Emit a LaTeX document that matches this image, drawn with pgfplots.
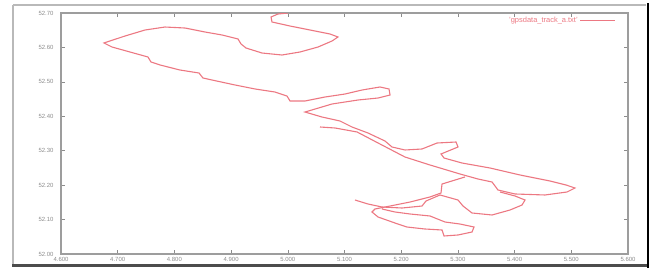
\documentclass[border=0pt]{standalone}
\usepackage{pgfplots}
\pgfplotsset{compat=1.18}
\usepackage{fontspec}
\setmainfont{Liberation Sans}
\definecolor{trk}{RGB}{236,120,130}
\definecolor{tk}{RGB}{140,140,140}
\begin{document}
\begin{tikzpicture}
\path (0,0) rectangle (655bp,271bp);
\begin{axis}[
  at={(61bp,17bp)}, anchor=south west, scale only axis,
  width=567bp, height=241bp,
  xmin=4.6, xmax=5.6, ymin=52.0, ymax=52.7,
  xtick={4.6,4.7,4.8,4.9,5.0,5.1,5.2,5.3,5.4,5.5,5.6},
  ytick={52.0,52.1,52.2,52.3,52.4,52.5,52.6,52.7},
  /pgf/number format/assume math mode=true,
  xticklabel style={/pgf/number format/fixed, /pgf/number format/fixed zerofill, /pgf/number format/precision=3},
  yticklabel style={/pgf/number format/fixed, /pgf/number format/fixed zerofill, /pgf/number format/precision=2, xshift=-4bp},
  tick label style={font=\fontsize{6}{7}\selectfont, text=tk},
  axis line style={draw=tk!85, line width=1.3bp},
  tick style={draw=tk, line width=0.6bp},
  major tick length=4bp, tick align=inside,
  legend style={at={(1,1)}, anchor=north east, xshift=-12bp, yshift=-2bp,
    draw=none, fill=none, inner sep=0pt,
    font=\fontsize{7.5}{8}\selectfont, text=trk},
  legend cell align=right, legend plot pos=right,
  legend image code/.code={\draw[draw=trk, line width=1.1bp] (0bp,0bp) -- (35bp,0bp);},
]
\addplot[trk, line width=1.1bp] coordinates {
(5.0004,52.7000) (4.9827,52.6971) (4.9704,52.6884) (4.9721,52.6739) (5.0039,52.6622)
(5.0392,52.6506) (5.0744,52.6390) (5.0885,52.6303) (5.0780,52.6187) (5.0533,52.6012)
(5.0215,52.5867) (4.9898,52.5780) (4.9545,52.5838) (4.9263,52.5983) (4.9175,52.6100)
(4.9122,52.6245) (4.8840,52.6361) (4.8540,52.6448) (4.8187,52.6564) (4.7834,52.6593)
(4.7481,52.6506) (4.7129,52.6332) (4.6758,52.6129) (4.6900,52.6012) (4.7217,52.5867)
(4.7534,52.5722) (4.7587,52.5577) (4.7746,52.5490) (4.8099,52.5344) (4.8434,52.5257)
(4.8504,52.5112) (4.8663,52.5054) (4.9069,52.4909) (4.9422,52.4793) (4.9774,52.4705)
(4.9986,52.4589) (5.0039,52.4444) (5.0303,52.4444) (5.0656,52.4560) (5.1009,52.4647)
(5.1309,52.4763) (5.1626,52.4851) (5.1785,52.4793) (5.1803,52.4618) (5.1591,52.4531)
(5.1238,52.4473) (5.0780,52.4357) (5.0303,52.4124) (5.0603,52.3979) (5.0921,52.3863)
(5.1132,52.3689) (5.1415,52.3514) (5.1714,52.3282) (5.1838,52.3108) (5.2067,52.3021)
(5.2367,52.3050) (5.2632,52.3224) (5.2967,52.3253) (5.3002,52.3108) (5.2702,52.2905)
(5.2755,52.2788) (5.3072,52.2643) (5.3566,52.2498) (5.4095,52.2295) (5.4625,52.2120)
(5.4907,52.2004) (5.5065,52.1917) (5.4924,52.1801) (5.4536,52.1714) (5.4007,52.1743)
(5.3707,52.1859) (5.3602,52.2091) (5.3355,52.2178) (5.3037,52.2324) (5.2508,52.2585)
(5.2067,52.2817) (5.1626,52.3195) (5.1221,52.3544) (5.0833,52.3660) (5.0568,52.3689)
};
\addlegendentry{'gpsdata\_track\_a.txt'}
\addplot[trk, line width=1.1bp, forget plot] coordinates {
(5.1185,52.1568) (5.1415,52.1452) (5.1661,52.1365) (5.2014,52.1336) (5.2367,52.1394)
(5.2437,52.1539) (5.2684,52.1714) (5.3002,52.1568) (5.3090,52.1394) (5.3249,52.1191)
(5.3602,52.1133) (5.3919,52.1278) (5.4131,52.1423) (5.4184,52.1568) (5.4007,52.1685)
(5.3743,52.1801)
};
\addplot[trk, line width=1.1bp, forget plot] coordinates {
(5.3125,52.2237) (5.2720,52.2033) (5.2702,52.1772) (5.2508,52.1656) (5.2155,52.1510)
(5.1803,52.1394) (5.1538,52.1307) (5.1485,52.1220) (5.1591,52.1075) (5.1891,52.0900)
(5.2102,52.0784) (5.2420,52.0726) (5.2720,52.0697) (5.2755,52.0523) (5.3002,52.0552)
(5.3249,52.0639) (5.3284,52.0784) (5.3037,52.0871) (5.2773,52.0929) (5.2508,52.1104)
(5.2155,52.1162) (5.1891,52.1220) (5.1661,52.1307)
};
\end{axis}
\draw[gray!55, line width=2bp] (13bp,266bp) -- (646bp,266bp);
\draw[gray!55, line width=2bp] (13bp,5bp) -- (13bp,266bp);
\draw[black!70, line width=3bp] (12bp,5bp) -- (647bp,5bp);
\draw[black, line width=2.5bp] (648bp,3bp) -- (648bp,268bp);
\end{tikzpicture}
\end{document}
